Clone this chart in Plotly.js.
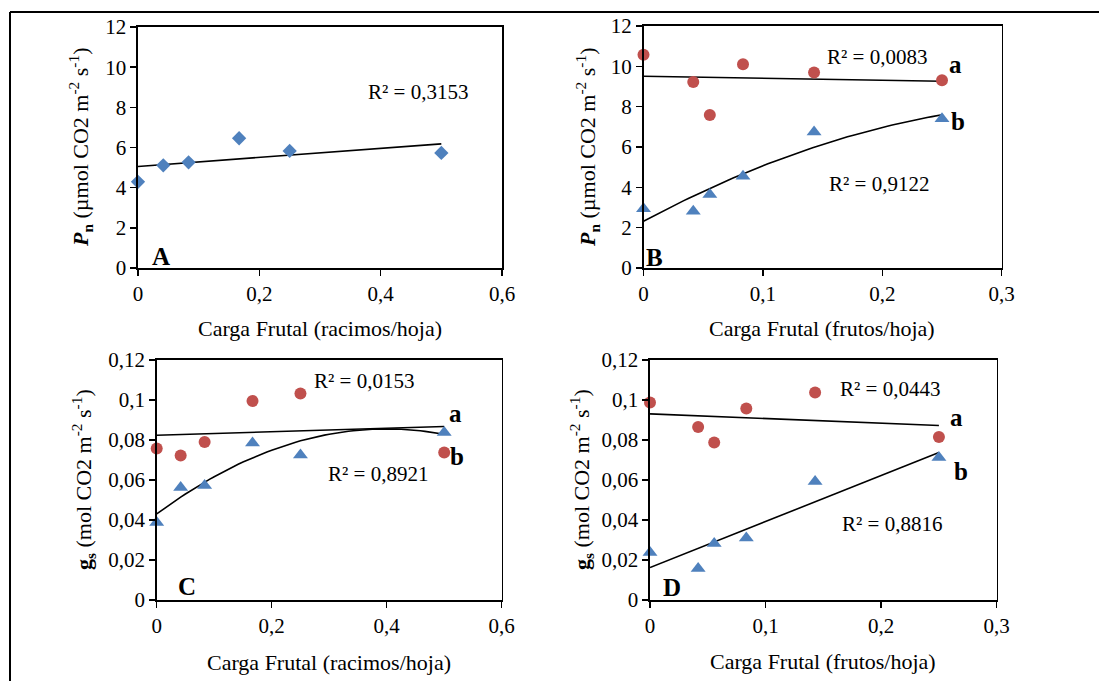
<!DOCTYPE html>
<html>
<head>
<meta charset="utf-8">
<script src="https://cdn.plot.ly/plotly-3.0.1.min.js"></script>
<style>html,body{margin:0;padding:0;background:#fff;}#chart{width:1099px;height:681px;}</style>
</head>
<body>
<div id="chart"></div>
<script>
// ---- Data ----
// Panel A: Pn vs racimos/hoja
const xA = [0, 1/24, 1/12, 1/6, 1/4, 1/2];
const yA = [4.29, 5.11, 5.26, 6.46, 5.83, 5.73];
// Panel B: Pn vs frutos/hoja
const xB = [0, 1/24, 1/18, 1/12, 1/7, 1/4];
const yBa = [10.58, 9.22, 7.59, 10.10, 9.69, 9.31];
const yBb = [2.94, 2.81, 3.65, 4.55, 6.74, 7.40];
// Panel C: gs vs racimos/hoja
const xC = [0, 1/24, 1/12, 1/6, 1/4, 1/2];
const yCa = [0.0758, 0.0722, 0.0790, 0.0995, 0.1032, 0.0738];
const yCb = [0.0387, 0.0562, 0.0572, 0.0785, 0.0725, 0.0838];
// Panel D: gs vs frutos/hoja
const xD = [0, 1/24, 1/18, 1/12, 1/7, 1/4];
const yDa = [0.0988, 0.0865, 0.0787, 0.0958, 0.1038, 0.0815];
const yDb = [0.0238, 0.0157, 0.0283, 0.0310, 0.0592, 0.0713];

const r2Labels = {A: 'R² = 0,3153', Ba: 'R² = 0,0083', Bb: 'R² = 0,9122',
  Ca: 'R² = 0,0153', Cb: 'R² = 0,8921', Da: 'R² = 0,0443', Db: 'R² = 0,8816'};

// ---- Least-squares trendlines (as Excel) ----
function polyfit(x, y, deg) {
  const n = deg + 1;
  const A = [], b = [];
  for (let i = 0; i < n; i++) {
    A.push([]);
    for (let j = 0; j < n; j++) A[i].push(x.reduce((s, v) => s + Math.pow(v, i + j), 0));
    b.push(x.reduce((s, v, k) => s + Math.pow(v, i) * y[k], 0));
  }
  for (let i = 0; i < n; i++) {
    let p = i;
    for (let r = i + 1; r < n; r++) if (Math.abs(A[r][i]) > Math.abs(A[p][i])) p = r;
    [A[i], A[p]] = [A[p], A[i]]; [b[i], b[p]] = [b[p], b[i]];
    for (let r = i + 1; r < n; r++) {
      const f = A[r][i] / A[i][i];
      for (let c = i; c < n; c++) A[r][c] -= f * A[i][c];
      b[r] -= f * b[i];
    }
  }
  const c = new Array(n).fill(0);
  for (let i = n - 1; i >= 0; i--) {
    let s = b[i];
    for (let j = i + 1; j < n; j++) s -= A[i][j] * c[j];
    c[i] = s / A[i][i];
  }
  return c;
}
function trend(x, y, deg, ax) {
  const c = polyfit(x, y, deg);
  const x0 = Math.min(...x), x1 = Math.max(...x);
  const xs = [], ys = [];
  for (let i = 0; i <= 60; i++) {
    const t = x0 + (x1 - x0) * i / 60;
    xs.push(t);
    ys.push(c.reduce((s, ci, k) => s + ci * Math.pow(t, k), 0));
  }
  return {x: xs, y: ys, mode: 'lines', type: 'scatter', xaxis: 'x' + ax, yaxis: 'y' + ax,
    line: {color: '#000', width: 1.6}, hoverinfo: 'skip', showlegend: false};
}

const BLUE = '#4F81BD', RED = '#C0504D';
function pts(x, y, ax, sym, color, size) {
  return {x: x, y: y, mode: 'markers', type: 'scatter', xaxis: 'x' + ax, yaxis: 'y' + ax,
    marker: {symbol: sym, color: color, size: size}, cliponaxis: false, showlegend: false};
}

const data = [
  trend(xA, yA, 1, ''),
  pts(xA, yA, '', 'diamond', BLUE, 11),
  trend(xB, yBa, 1, '2'),
  trend(xB, yBb, 2, '2'),
  pts(xB, yBa, '2', 'circle', RED, 12),
  pts(xB, yBb, '2', 'triangle-up', BLUE, 13),
  trend(xC, yCa, 1, '3'),
  trend(xC, yCb, 2, '3'),
  pts(xC, yCa, '3', 'circle', RED, 12),
  pts(xC, yCb, '3', 'triangle-up', BLUE, 13),
  trend(xD, yDa, 1, '4'),
  trend(xD, yDb, 1, '4'),
  pts(xD, yDa, '4', 'circle', RED, 12),
  pts(xD, yDb, '4', 'triangle-up', BLUE, 13)
];

const FONT = '"Liberation Serif", "Times New Roman", serif';
const W = 1099, H = 681;
function ax(domain, range, dtick, anchor) {
  return {domain: domain, range: range, dtick: dtick, tick0: 0, anchor: anchor,
    showline: true, linecolor: '#000', linewidth: 1.6, mirror: true,
    ticks: 'outside', ticklen: 6, tickwidth: 1.4, tickcolor: '#000',
    showgrid: false, zeroline: false, fixedrange: true,
    tickfont: {family: FONT, size: 21, color: '#000'}};
}
const px = v => v / W, py = v => 1 - v / H;

const layout = {
  width: W, height: H, margin: {l: 0, r: 0, t: 0, b: 0},
  paper_bgcolor: '#fff', plot_bgcolor: '#fff', showlegend: false,
  separators: ', ',
  font: {family: FONT, color: '#000'},
  xaxis: ax([px(138), px(502)], [0, 0.6], 0.2, 'y'),
  yaxis: ax([py(268), py(27)], [0, 12], 2, 'x'),
  xaxis2: ax([px(643.5), px(1001.7)], [0, 0.3], 0.1, 'y2'),
  yaxis2: ax([py(268), py(26)], [0, 12], 2, 'x2'),
  xaxis3: ax([px(156.7), px(501.7)], [0, 0.6], 0.2, 'y3'),
  yaxis3: ax([py(600), py(360)], [0, 0.12], 0.02, 'x3'),
  xaxis4: ax([px(650), px(996.7)], [0, 0.3], 0.1, 'y4'),
  yaxis4: ax([py(600), py(360)], [0, 0.12], 0.02, 'x4'),
  shapes: [
    {type: 'line', xref: 'paper', yref: 'paper', x0: px(10), x1: 1, y0: py(12), y1: py(12), line: {color: '#000', width: 2}},
    {type: 'line', xref: 'paper', yref: 'paper', x0: px(10), x1: px(10), y0: py(12), y1: 0, line: {color: '#000', width: 2}}
  ],
  annotations: []
};

function note(text, x, y, xr, yr, size, bold) {
  layout.annotations.push({text: bold ? '<b>' + text + '</b>' : text, x: x, y: y, xref: xr, yref: yr,
    showarrow: false, xanchor: 'center', yanchor: 'middle',
    font: {family: FONT, size: size, color: '#000'}});
}
function title(text, x, y, angle) {
  layout.annotations.push({text: text, x: px(x), y: py(y), xref: 'paper', yref: 'paper',
    showarrow: false, xanchor: 'center', yanchor: 'middle', textangle: angle,
    font: {family: FONT, size: 22, color: '#000'}});
}
const pnTitle = '<b><i>P</i></b><sub><b>n</b></sub> (µmol CO2 m<sup>-2</sup> s<sup>-1</sup>)';
const gsTitle = '<b>g</b><sub><b>s</b></sub> (mol CO2 m<sup>-2</sup> s<sup>-1</sup>)';
title(pnTitle, 80, 148, -90);
title(pnTitle, 587, 148, -90);
title(gsTitle, 83, 480, -90);
title(gsTitle, 581, 480, -90);
title('Carga Frutal (racimos/hoja)', 320, 328, 0);
title('Carga Frutal (frutos/hoja)', 822, 328, 0);
title('Carga Frutal (racimos/hoja)', 329, 662, 0);
title('Carga Frutal (frutos/hoja)', 823, 661, 0);

note(r2Labels.A, 0.4615, 8.76, 'x', 'y', 21, false);
note('A', 0.038, 0.55, 'x', 'y', 25, true);
note(r2Labels.Ba, 0.1955, 10.46, 'x2', 'y2', 21, false);
note(r2Labels.Bb, 0.197, 4.17, 'x2', 'y2', 21, false);
note('a', 0.261, 10.07, 'x2', 'y2', 25, true);
note('b', 0.263, 7.24, 'x2', 'y2', 25, true);
note('B', 0.0096, 0.5, 'x2', 'y2', 25, true);
note(r2Labels.Ca, 0.3605, 0.1095, 'x3', 'y3', 21, false);
note(r2Labels.Cb, 0.385, 0.063, 'x3', 'y3', 21, false);
note('a', 0.5205, 0.0935, 'x3', 'y3', 25, true);
note('b', 0.522, 0.072, 'x3', 'y3', 25, true);
note('C', 0.0527, 0.007, 'x3', 'y3', 25, true);
note(r2Labels.Da, 0.2077, 0.1055, 'x4', 'y4', 21, false);
note(r2Labels.Db, 0.2094, 0.038, 'x4', 'y4', 21, false);
note('a', 0.2648, 0.0915, 'x4', 'y4', 25, true);
note('b', 0.269, 0.0645, 'x4', 'y4', 25, true);
note('D', 0.019, 0.0065, 'x4', 'y4', 25, true);

Plotly.newPlot('chart', data, layout, {displayModeBar: false, staticPlot: true});
</script>
</body>
</html>
